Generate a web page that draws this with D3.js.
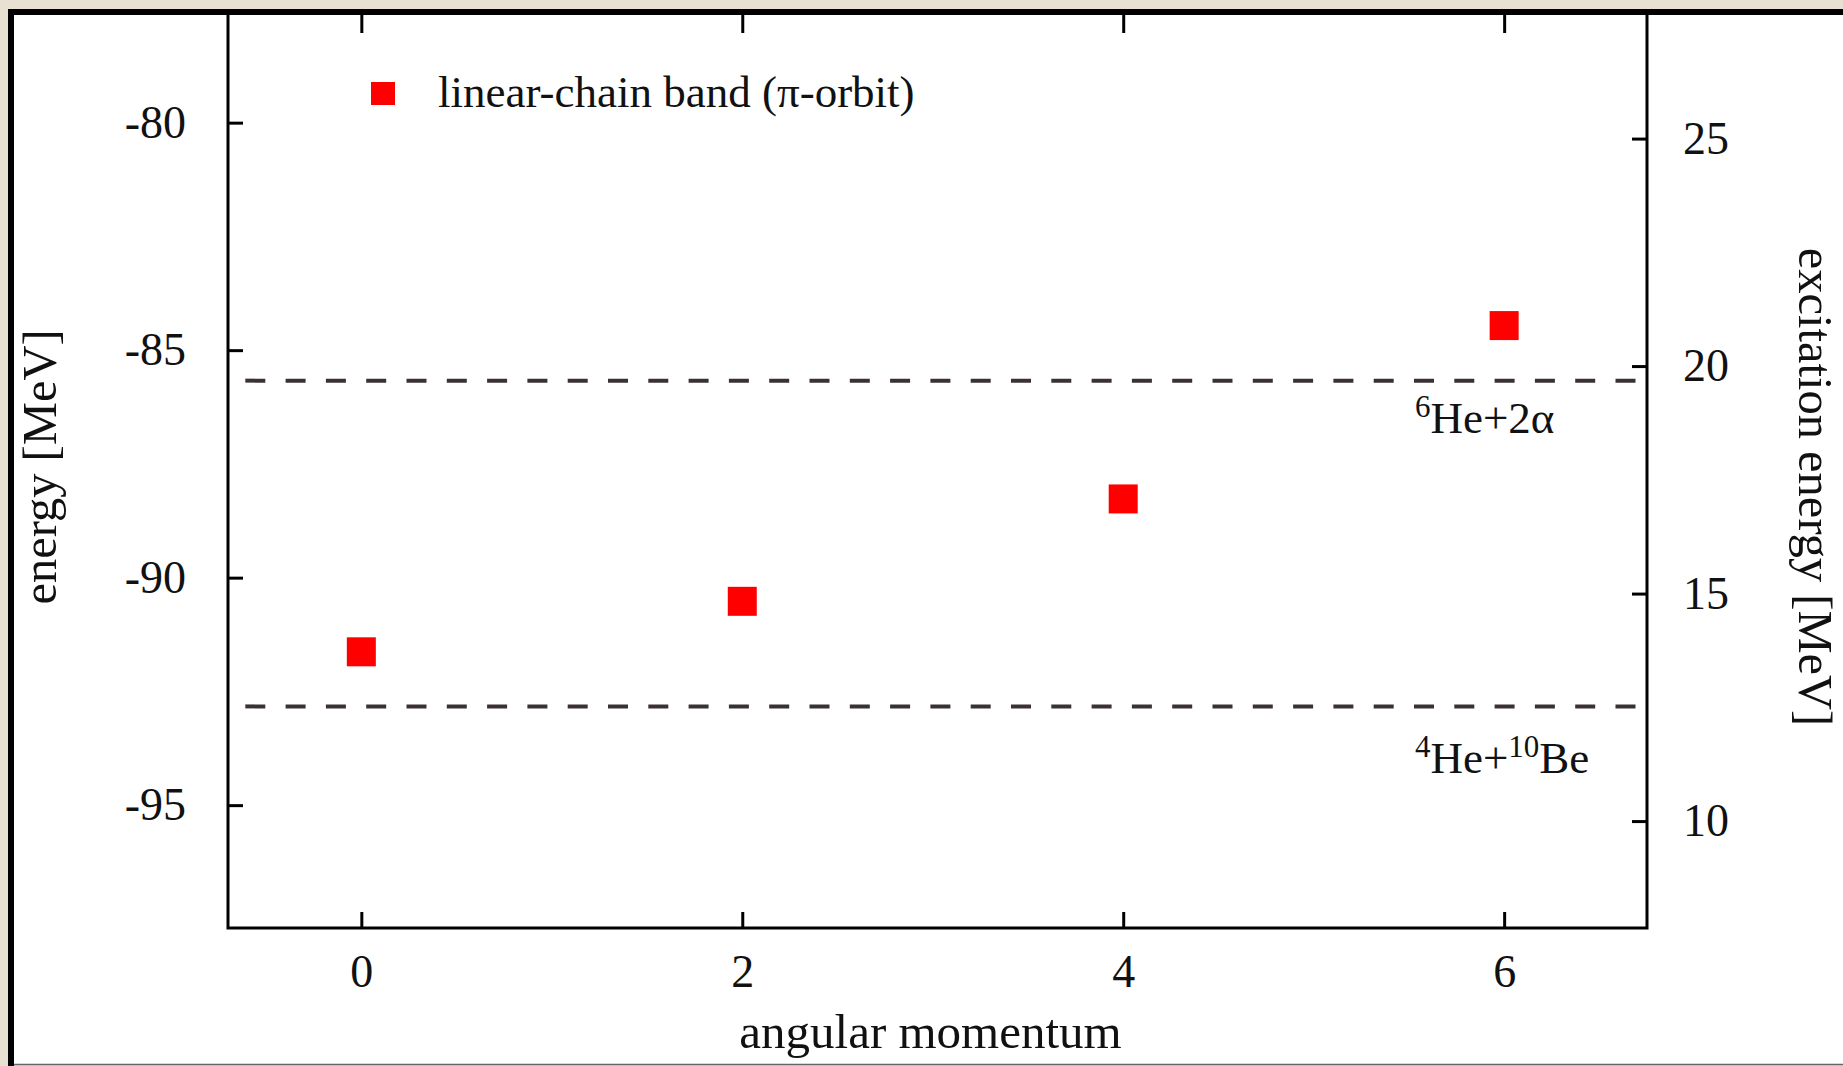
<!DOCTYPE html>
<html>
<head>
<meta charset="utf-8">
<script src="https://cdn.jsdelivr.net/npm/d3@7"></script>
<style>
  html, body { margin: 0; padding: 0; background: #e8e0d1; }
  svg { display: block; }
  text { font-family: "Liberation Serif", "Times New Roman", serif; fill: #111; }
</style>
</head>
<body>
<svg id="chart" width="1843" height="1066"></svg>
<script>
// Linear-chain band of 14C: energies per angular momentum
const angularMomentum = [0, 2, 4, 6];
const bandEnergy = [-91.63, -90.52, -88.27, -84.46];

// Cluster decay thresholds (energy in MeV) and where their labels sit
const thresholdEnergy = [-85.67, -92.83];
const thresholdLabelEnergy = [-86.82, -94.29];
const thresholdLabels = [
  [{ t: "6", sup: true }, { t: "He+2α" }],
  [{ t: "4", sup: true }, { t: "He+" }, { t: "10", sup: true }, { t: "Be" }]
];

// Axis ticks
const xTicks = [0, 2, 4, 6];
const energyTicks = [-95, -90, -85, -80];
const excitationTicks = [10, 15, 20, 25];
const groundStateOffset = 105.35; // excitation = energy + offset

const legendLabel = "linear-chain band (π-orbit)";

const svg = d3.select("#chart");
const W = 1843, H = 1066;

// Page panel: white sheet with a heavy black edge on the left and top
svg.append("rect").attr("x", 0).attr("y", 0).attr("width", W).attr("height", H).attr("fill", "#e8e0d1");
svg.append("rect").attr("x", 11).attr("y", 12).attr("width", W - 11).attr("height", H - 13).attr("fill", "#fff");
svg.append("line").attr("x1", 11).attr("x2", 11).attr("y1", 9).attr("y2", H)
  .attr("stroke", "#000").attr("stroke-width", 6);
svg.append("line").attr("x1", 14).attr("x2", W).attr("y1", 1064.5).attr("y2", 1064.5)
  .attr("stroke", "#666").attr("stroke-width", 1.5);

// Plot region
const plot = { left: 228, right: 1647, top: 13, bottom: 928 };

const x = d3.scaleLinear().domain([-0.7, 6.75]).range([plot.left, plot.right]);
const y = d3.scaleLinear().domain([-97.7, -77.59]).range([plot.bottom, plot.top]);
const y2 = d3.scaleLinear()
  .domain(y.domain().map(v => v + groundStateOffset))
  .range([plot.bottom, plot.top]);

const FS = 46;
const plain = d => String(d); // hyphen-minus, as in the printed figure

function styleAxis(g) {
  g.select(".domain").remove();
  g.selectAll(".tick line").attr("stroke", "#000").attr("stroke-width", 3);
  g.selectAll(".tick text")
    .attr("font-family", "'Liberation Serif', 'Times New Roman', serif")
    .attr("font-size", FS).attr("fill", "#111");
}

svg.append("g").attr("transform", `translate(${plot.left},0)`)
  .call(d3.axisLeft(y).tickValues(energyTicks).tickSizeInner(-15).tickSizeOuter(0)
    .tickPadding(42).tickFormat(plain))
  .call(styleAxis);

svg.append("g").attr("transform", `translate(${plot.right},0)`)
  .call(d3.axisRight(y2).tickValues(excitationTicks).tickSizeInner(-15).tickSizeOuter(0)
    .tickPadding(36).tickFormat(plain))
  .call(styleAxis);

svg.append("g").attr("transform", `translate(0,${plot.bottom})`)
  .call(d3.axisBottom(x).tickValues(xTicks).tickSizeInner(-16).tickSizeOuter(0)
    .tickPadding(26).tickFormat(plain))
  .call(styleAxis);

svg.append("g").attr("transform", `translate(0,${plot.top})`)
  .call(d3.axisTop(x).tickValues(xTicks).tickSizeInner(-20).tickSizeOuter(0).tickFormat(""))
  .call(styleAxis);

// Plot border
svg.append("rect")
  .attr("x", plot.left).attr("y", plot.top)
  .attr("width", plot.right - plot.left).attr("height", plot.bottom - plot.top)
  .attr("fill", "none").attr("stroke", "#000").attr("stroke-width", 3);

// Top page edge, drawn over the frame
svg.append("line").attr("x1", 8).attr("x2", W).attr("y1", 12).attr("y2", 12)
  .attr("stroke", "#000").attr("stroke-width", 6);

// Threshold lines
svg.append("g").selectAll("line").data(thresholdEnergy).join("line")
  .attr("x1", plot.left + 2).attr("x2", plot.right - 2)
  .attr("y1", d => y(d)).attr("y2", d => y(d))
  .attr("stroke", "#3a3232").attr("stroke-width", 4)
  .attr("stroke-dasharray", "20,20.3").attr("stroke-dashoffset", 25);

// Threshold labels with superscript mass numbers
thresholdLabelEnergy.forEach((e, i) => {
  const t = svg.append("text")
    .attr("x", 1415).attr("y", y(e))
    .attr("font-size", 45).attr("fill", "#2e2626");
  let raised = false;
  thresholdLabels[i].forEach(p => {
    const span = t.append("tspan").text(p.t);
    if (p.sup) {
      span.attr("font-size", 31).attr("dy", raised ? 0 : -16);
      raised = true;
    } else {
      span.attr("dy", raised ? 16 : 0);
      raised = false;
    }
  });
});

// Data points
const SQ = 29;
svg.append("g").selectAll("rect").data(angularMomentum).join("rect")
  .attr("x", d => x(d) - SQ / 2)
  .attr("y", (d, i) => y(bandEnergy[i]) - SQ / 2)
  .attr("width", SQ).attr("height", SQ)
  .attr("fill", "#ff0000");

// Legend
svg.append("rect").attr("x", 371).attr("y", 82).attr("width", 24).attr("height", 23).attr("fill", "#ff0000");
svg.append("text").attr("x", 438).attr("y", 107).attr("font-size", 45).text(legendLabel);

// Axis titles
svg.append("text").attr("x", (plot.left + plot.right) / 2 - 7).attr("y", 1048)
  .attr("text-anchor", "middle").attr("font-size", 49).text("angular momentum");
svg.append("text").attr("transform", "translate(56,467) rotate(-90)")
  .attr("text-anchor", "middle").attr("font-size", 48.5).text("energy [MeV]");
svg.append("text").attr("transform", "translate(1799,487) rotate(90)")
  .attr("text-anchor", "middle").attr("font-size", 48.5).text("excitation energy [MeV]");
</script>
</body>
</html>
